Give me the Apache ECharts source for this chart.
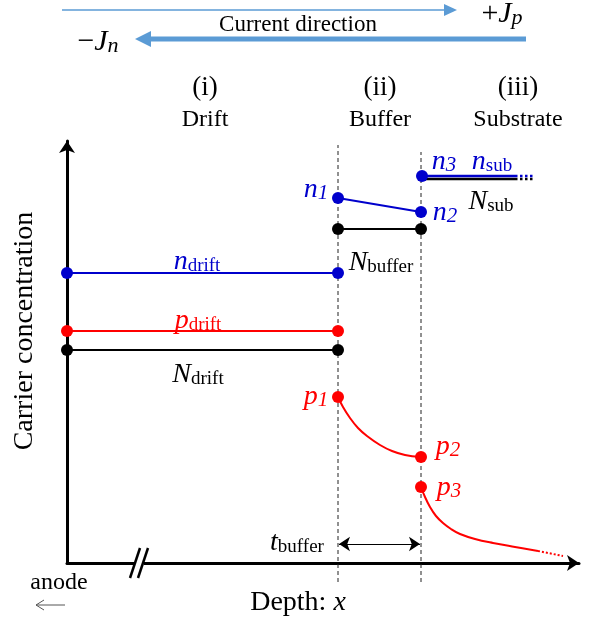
<!DOCTYPE html>
<html>
<head>
<meta charset="utf-8">
<script src="https://cdn.jsdelivr.net/npm/echarts@6/dist/echarts.min.js"></script>
<style>
  html, body { margin: 0; padding: 0; background: #fff; }
  #chart { width: 603px; height: 622px; }
</style>
</head>
<body>
<div id="chart"></div>
<script>
// ---- Carrier profile through drift / buffer / substrate (arbitrary units) ----
// Depth of the drift|buffer and buffer|substrate interfaces
const interfaces = [271, 354];
const interfaceTop = [418, 411];
const interfaceBottom = -19;

// Drift layer (flat levels)
const nDrift = [[0, 290], [271, 290]];
const pDrift = [[0, 232], [271, 232]];
const NDrift = [[0, 213], [271, 213]];

// Buffer layer
const nBuffer = [[271, 365], [354, 351]];
const NBuffer = [[271, 334], [354, 334]];
const pBuffer = [[271, 166], [276, 156], [283, 145], [291, 135], [300, 127], [313, 118], [325, 112], [338, 108], [354, 106]];

// Substrate
const nSub = [[355, 387], [448, 387]];
const nSubTail = [[448, 387], [468, 387]];
const NSub = [[355, 384], [448, 384]];
const NSubTail = [[448, 384], [468, 384]];
const pSub = [[354, 76], [358, 66], [363, 56], [369, 47], [376, 40], [384, 34], [393, 29], [408, 24], [426, 20], [448, 16], [471, 12]];
const pSubTail = [[471, 12], [496, 7]];

// Boundary values marked with dots
const blueDots = [[0, 290], [271, 290], [271, 365], [354, 351], [355, 387]];
const redDots = [[0, 232], [271, 232], [271, 166], [354, 106], [354, 76]];
const blackDots = [[0, 213], [271, 213], [271, 334], [354, 334]];

// Buffer thickness marker height
const tBufferLevel = 19;

// Symbol labels: [depth, level, main, subscript, italic subscript?]
const blueLabels = [
  [130, 301, 'n', 'drift', false],
  [249, 373, 'n', '1', true],
  [378, 350, 'n', '2', true],
  [377, 401, 'n', '3', true],
  [425, 401, 'n', 'sub', false]
];
const redLabels = [
  [131, 242, 'p', 'drift', false],
  [249, 166, 'p', '1', true],
  [381, 116, 'p', '2', true],
  [382, 75, 'p', '3', true]
];
const blackLabels = [
  [131, 188, 'N', 'drift', false],
  [314, 300, 'N', 'buffer', false],
  [424, 361, 'N', 'sub', false],
  [230, 20, 't', 'buffer', false]
];

const SERIF = '"Liberation Serif", "Times New Roman", serif';
const BLUE = '#0000CC';
const RED = '#FF0000';
const BLACK = '#000000';
const ARROW_BLUE = '#5B9BD5';

function richFor(color) {
  return {
    m: { fontFamily: SERIF, fontStyle: 'italic', fontSize: 28, lineHeight: 28, color: color },
    s: { fontFamily: SERIF, fontSize: 19, lineHeight: 13, verticalAlign: 'bottom', color: color },
    si: { fontFamily: SERIF, fontStyle: 'italic', fontSize: 21, lineHeight: 13, verticalAlign: 'bottom', color: color }
  };
}

function labelSeries(rows, color) {
  return {
    type: 'scatter',
    symbolSize: 0,
    silent: true,
    clip: false,
    z: 10,
    itemStyle: { opacity: 1 },
    data: rows.map(r => ({
      value: [r[0], r[1]],
      label: {
        show: true,
        position: 'inside',
        color: color,
        formatter: '{m|' + r[2] + '}{' + (r[4] ? 'si' : 's') + '|' + r[3] + '}',
        rich: richFor(color)
      }
    }))
  };
}

function lineSeries(data, color, width, type, z) {
  return {
    type: 'line',
    data: data,
    symbol: 'none',
    clip: false,
    silent: true,
    z: z || 3,
    lineStyle: { color: color, width: width, type: type || 'solid', opacity: 1 }
  };
}

function smoothSeries(data, color, width) {
  const s = lineSeries(data, color, width);
  s.smooth = 0.4;
  return s;
}

function dotSeries(data, color, size) {
  return {
    type: 'scatter',
    data: data,
    symbol: 'circle',
    symbolSize: size || 12,
    clip: false,
    silent: true,
    z: 6,
    itemStyle: { color: color, opacity: 1 }
  };
}

const series = [];

// interface guides
interfaces.forEach((x, i) => {
  series.push(lineSeries([[x, interfaceBottom], [x, interfaceTop[i]]], '#222', 1, [4, 3], 1));
});

// drift layer
series.push(lineSeries(nDrift, BLUE, 2));
series.push(lineSeries(pDrift, RED, 2));
series.push(lineSeries(NDrift, BLACK, 2));

// buffer layer
series.push(lineSeries(nBuffer, BLUE, 2));
series.push(lineSeries(NBuffer, BLACK, 2));
series.push(smoothSeries(pBuffer, RED, 2));

// substrate
series.push(lineSeries(NSub, BLACK, 2.5));
series.push(lineSeries(NSubTail, BLACK, 2.5, 'dotted'));
series.push(lineSeries(nSub, BLUE, 2.5, 'solid', 4));
series.push(lineSeries(nSubTail, BLUE, 2.5, 'dotted', 4));
series.push(smoothSeries(pSub, RED, 2));
series.push(lineSeries(pSubTail, RED, 2, 'dotted'));

// dots
series.push(dotSeries(blueDots, BLUE, 12));
series.push(dotSeries(redDots, RED, 12));
series.push(dotSeries(blackDots, BLACK, 12));

// buffer thickness arrow
series.push({
  type: 'line',
  data: [],
  silent: true,
  markLine: {
    silent: true,
    animation: false,
    symbol: ['arrow', 'arrow'],
    symbolSize: [11, 11],
    label: { show: false },
    lineStyle: { color: '#000', width: 1, type: 'solid' },
    data: [[{ coord: [interfaces[0] + 1, tBufferLevel] }, { coord: [interfaces[1] - 1, tBufferLevel] }]]
  }
});

// labels
series.push(labelSeries(blueLabels, BLUE));
series.push(labelSeries(redLabels, RED));
series.push(labelSeries(blackLabels, BLACK));

const chart = echarts.init(document.getElementById('chart'), null, { renderer: 'canvas' });

const headerFont = '27px ' + SERIF;
const subFont = '24px ' + SERIF;

chart.setOption({
  animation: false,
  backgroundColor: '#fff',
  grid: { left: 67, right: 24, top: 141, bottom: 59, containLabel: false },
  xAxis: {
    type: 'value', min: 0, max: 512,
    axisLine: { show: true, onZero: false, symbol: ['none', 'arrow'], symbolSize: [12, 12],
      lineStyle: { color: '#000', width: 3 } },
    axisTick: { show: false }, axisLabel: { show: false }, splitLine: { show: false }
  },
  yAxis: {
    type: 'value', min: 0, max: 422,
    axisLine: { show: true, onZero: false, symbol: ['none', 'arrow'], symbolSize: [12, 12],
      lineStyle: { color: '#000', width: 3 } },
    axisTick: { show: false }, axisLabel: { show: false }, splitLine: { show: false }
  },
  series: series,
  graphic: [
    // axis break
    { type: 'rect', shape: { x: 135, y: 558, width: 9, height: 10 }, style: { fill: '#fff' }, z: 100 },
    { type: 'line', shape: { x1: 130, y1: 578, x2: 140, y2: 548 }, style: { stroke: '#000', lineWidth: 2.5 }, z: 101 },
    { type: 'line', shape: { x1: 138, y1: 578, x2: 148, y2: 548 }, style: { stroke: '#000', lineWidth: 2.5 }, z: 101 },

    // current direction arrows
    { type: 'line', shape: { x1: 62, y1: 10, x2: 446, y2: 10 }, style: { stroke: ARROW_BLUE, lineWidth: 1.5 } },
    { type: 'polygon', shape: { points: [[457, 10], [444, 4], [444, 16]] }, style: { fill: ARROW_BLUE } },
    { type: 'line', shape: { x1: 526, y1: 39, x2: 148, y2: 39 }, style: { stroke: ARROW_BLUE, lineWidth: 5 } },
    { type: 'polygon', shape: { points: [[135, 39], [151, 31], [151, 47]] }, style: { fill: ARROW_BLUE } },
    { type: 'text', x: 298, y: 25, style: { text: 'Current direction', font: '23px ' + SERIF, fill: '#000', align: 'center', verticalAlign: 'middle' } },
    { type: 'text', x: 98, y: 42, style: {
        text: '{o|\u2212}{m|J}{s|n}', align: 'center', verticalAlign: 'middle',
        rich: {
          o: { fontFamily: SERIF, fontSize: 30, lineHeight: 30, fill: '#000' },
          m: { fontFamily: SERIF, fontStyle: 'italic', fontSize: 30, lineHeight: 30, fill: '#000' },
          s: { fontFamily: SERIF, fontStyle: 'italic', fontSize: 22, lineHeight: 13, verticalAlign: 'bottom', fill: '#000' }
        } } },
    { type: 'text', x: 502, y: 14, style: {
        text: '{o|+}{m|J}{s|p}', align: 'center', verticalAlign: 'middle',
        rich: {
          o: { fontFamily: SERIF, fontSize: 30, lineHeight: 30, fill: '#000' },
          m: { fontFamily: SERIF, fontStyle: 'italic', fontSize: 30, lineHeight: 30, fill: '#000' },
          s: { fontFamily: SERIF, fontStyle: 'italic', fontSize: 22, lineHeight: 13, verticalAlign: 'bottom', fill: '#000' }
        } } },

    // region headers
    { type: 'text', x: 205, y: 88, style: { text: '(i)', font: headerFont, fill: '#000', align: 'center', verticalAlign: 'middle' } },
    { type: 'text', x: 205, y: 120, style: { text: 'Drift', font: subFont, fill: '#000', align: 'center', verticalAlign: 'middle' } },
    { type: 'text', x: 380, y: 88, style: { text: '(ii)', font: headerFont, fill: '#000', align: 'center', verticalAlign: 'middle' } },
    { type: 'text', x: 380, y: 120, style: { text: 'Buffer', font: subFont, fill: '#000', align: 'center', verticalAlign: 'middle' } },
    { type: 'text', x: 518, y: 88, style: { text: '(iii)', font: headerFont, fill: '#000', align: 'center', verticalAlign: 'middle' } },
    { type: 'text', x: 518, y: 120, style: { text: 'Substrate', font: subFont, fill: '#000', align: 'center', verticalAlign: 'middle' } },

    // axis titles
    { type: 'text', x: 25, y: 331, rotation: Math.PI / 2, style: { text: 'Carrier concentration', font: '28px ' + SERIF, fill: '#000', align: 'center', verticalAlign: 'middle' } },
    { type: 'text', x: 298, y: 603, style: {
        text: '{a|Depth: }{b|x}', align: 'center', verticalAlign: 'middle',
        rich: {
          a: { fontFamily: SERIF, fontSize: 28, fill: '#000' },
          b: { fontFamily: SERIF, fontStyle: 'italic', fontSize: 28, fill: '#000' }
        } } },

    // anode pointer
    { type: 'text', x: 59, y: 583, style: { text: 'anode', font: '24px ' + SERIF, fill: '#000', align: 'center', verticalAlign: 'middle' } },
    { type: 'polyline', shape: { points: [[44, 600], [36, 605], [44, 610]] }, style: { stroke: '#555', lineWidth: 1, fill: null } },
    { type: 'line', shape: { x1: 36, y1: 605, x2: 65, y2: 605 }, style: { stroke: '#555', lineWidth: 1 } }
  ]
});
</script>
</body>
</html>
